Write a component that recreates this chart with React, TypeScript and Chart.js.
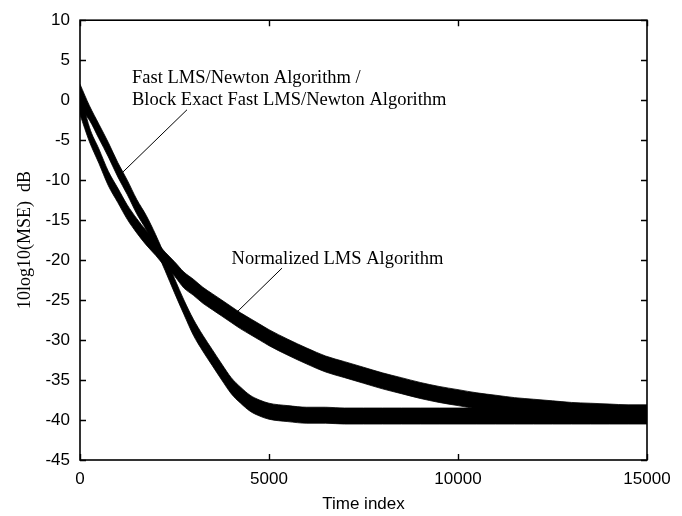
import React, { useEffect, useRef } from 'react';
import { Chart, registerables } from 'chart.js';

Chart.register(...registerables);

// Time index samples (x axis)
const timeIndex = [
  0, 250, 500, 750, 1000, 1250, 1500, 1750, 2000, 2250, 2500, 2750, 3000, 3250, 3500, 3750,
  4000, 4250, 4500, 4750, 5000, 5500, 6000, 6500, 7000, 7500, 8000, 8500, 9000, 9500, 10000,
  10500, 11000, 11500, 12000, 12500, 13000, 13500, 14000, 14500, 15000,
];

// Fast LMS/Newton (and Block Exact Fast LMS/Newton): upper / lower edge of the noisy MSE trace, dB
const fastUpper = [
  2.0, -0.7, -3.0, -5.3, -7.8, -10.0, -12.4, -14.4, -16.8, -19.5, -22.3, -25.0, -27.4, -29.4, -31.2, -33.0,
  -34.7, -35.9, -36.9, -37.5, -37.9, -38.2, -38.4, -38.4, -38.5, -38.5, -38.5, -38.5, -38.5, -38.5, -38.5,
  -38.5, -38.5, -38.5, -38.5, -38.5, -38.5, -38.5, -38.5, -38.5, -38.5,
];
const fastLower = [
  -1.0, -2.5, -4.8, -7.1, -9.6, -11.8, -14.2, -16.2, -18.6, -21.3, -24.1, -26.8, -29.4, -31.4, -33.2, -35.0,
  -36.7, -37.9, -38.9, -39.5, -39.9, -40.2, -40.4, -40.4, -40.5, -40.5, -40.5, -40.5, -40.5, -40.5, -40.5,
  -40.5, -40.5, -40.5, -40.5, -40.5, -40.5, -40.5, -40.5, -40.5, -40.5,
];

// Normalized LMS: upper / lower edge of the noisy MSE trace, dB
const nlmsUpper = [
  1.2, -3.4, -6.1, -8.9, -11.0, -13.1, -14.8, -16.3, -17.6, -19.0, -20.2, -21.5, -22.4, -23.4, -24.2, -25.0,
  -25.8, -26.6, -27.3, -28.0, -28.7, -29.9, -31.0, -32.0, -32.7, -33.4, -34.1, -34.7, -35.3, -35.8, -36.2,
  -36.6, -36.9, -37.2, -37.4, -37.6, -37.8, -37.9, -38.0, -38.1, -38.1,
];
const nlmsLower = [
  -1.8, -5.2, -7.9, -10.7, -12.8, -14.9, -16.6, -18.1, -19.4, -20.8, -22.0, -23.5, -24.4, -25.4, -26.2, -27.0,
  -27.8, -28.6, -29.3, -30.0, -30.7, -31.9, -33.0, -34.0, -34.7, -35.4, -36.1, -36.7, -37.3, -37.8, -38.2,
  -38.6, -38.9, -39.2, -39.4, -39.6, -39.8, -39.9, -40.0, -40.1, -40.1,
];

// Axis ticks
const xTicks = [0, 5000, 10000, 15000];
const yTicks = [-45, -40, -35, -30, -25, -20, -15, -10, -5, 0, 5, 10];

// Annotation texts (data coordinates of first-line baseline start) and leader lines
const fastLabelLines = ['Fast LMS/Newton Algorithm /', 'Block Exact Fast LMS/Newton Algorithm'];
const fastLabelAt = { x: 1376, y: 2.1 };
const fastLeader = [{ x: 2831, y: -1.2 }, { x: 1111, y: -9.1 }];
const nlmsLabelLines = ['Normalized LMS Algorithm'];
const nlmsLabelAt = { x: 4011, y: -20.5 };
const nlmsLeader = [{ x: 5345, y: -21.0 }, { x: 4022, y: -27.1 }];

const SANS = '"Liberation Sans", Arial, sans-serif';
const SERIF = '"Liberation Serif", "Times New Roman", serif';

const overlayPlugin = {
  id: 'overlay',
  afterDraw(chart: any) {
    const { ctx, chartArea: a, scales } = chart;
    const xs = scales.x;
    const ys = scales.y;
    ctx.save();
    ctx.strokeStyle = '#000';
    ctx.lineWidth = 1.6;
    ctx.strokeRect(a.left, a.top, a.right - a.left, a.bottom - a.top);
    const tl = 6;
    ctx.lineWidth = 1.4;
    ctx.beginPath();
    xTicks.forEach((v) => {
      const px = Math.round(xs.getPixelForValue(v)) + 0.5;
      ctx.moveTo(px, a.bottom);
      ctx.lineTo(px, a.bottom - tl);
      ctx.moveTo(px, a.top);
      ctx.lineTo(px, a.top + tl);
    });
    yTicks.forEach((v) => {
      const py = Math.round(ys.getPixelForValue(v)) + 0.5;
      ctx.moveTo(a.left, py);
      ctx.lineTo(a.left + tl, py);
      ctx.moveTo(a.right, py);
      ctx.lineTo(a.right - tl, py);
    });
    ctx.stroke();

    // leader lines
    ctx.lineWidth = 1;
    [fastLeader, nlmsLeader].forEach((seg) => {
      ctx.beginPath();
      ctx.moveTo(xs.getPixelForValue(seg[0].x), ys.getPixelForValue(seg[0].y));
      ctx.lineTo(xs.getPixelForValue(seg[1].x), ys.getPixelForValue(seg[1].y));
      ctx.stroke();
    });

    // labels
    ctx.fillStyle = '#000';
    ctx.font = `18.5px ${SERIF}`;
    ctx.textAlign = 'left';
    ctx.textBaseline = 'alphabetic';
    const lineGap = 22;
    const drawLines = (lines: string[], at: { x: number; y: number }) => {
      const px = xs.getPixelForValue(at.x);
      const py = ys.getPixelForValue(at.y);
      lines.forEach((t, i) => ctx.fillText(t, px, py + i * lineGap));
    };
    drawLines(fastLabelLines, fastLabelAt);
    drawLines(nlmsLabelLines, nlmsLabelAt);
    ctx.restore();
  },
};

export default function App() {
  const ref = useRef<HTMLCanvasElement | null>(null);

  useEffect(() => {
    if (!ref.current) return;
    const band = (data: number[], fill: any) => ({
      data: timeIndex.map((t, i) => ({ x: t, y: data[i] })),
      borderColor: '#000',
      backgroundColor: '#000',
      borderWidth: 0.8,
      pointRadius: 0,
      cubicInterpolationMode: 'monotone' as const,
      fill,
    });
    const chart = new Chart(ref.current, {
      type: 'line',
      data: {
        datasets: [
          { label: 'Fast upper', ...band(fastUpper, '+1') },
          { label: 'Fast lower', ...band(fastLower, false) },
          { label: 'NLMS upper', ...band(nlmsUpper, '+1') },
          { label: 'NLMS lower', ...band(nlmsLower, false) },
        ],
      },
      options: {
        responsive: false,
        animation: false,
        layout: { padding: { left: 0, right: 35, top: 13, bottom: 0 } },
        plugins: { legend: { display: false }, tooltip: { enabled: false }, filler: { propagate: false } },
        scales: {
          x: {
            type: 'linear',
            min: 0,
            max: 15000,
            grid: { display: false, drawTicks: false },
            border: { display: false },
            afterBuildTicks: (s: any) => {
              s.ticks = xTicks.map((v) => ({ value: v }));
            },
            afterFit: (s: any) => {
              s.height = 56;
            },
            ticks: {
              padding: 9,
              color: '#000',
              font: { family: SANS, size: 17 },
              maxRotation: 0,
              callback: (v: any) => String(v),
            },
            title: {
              display: true,
              text: 'Time index',
              color: '#000',
              font: { family: SANS, size: 17 },
              padding: { top: 0, bottom: 1 },
            },
          },
          y: {
            type: 'linear',
            min: -45,
            max: 10,
            grid: { display: false, drawTicks: false },
            border: { display: false },
            afterBuildTicks: (s: any) => {
              s.ticks = yTicks.map((v) => ({ value: v }));
            },
            afterFit: (s: any) => {
              s.width = 80;
            },
            ticks: {
              padding: 10,
              color: '#000',
              font: { family: SANS, size: 17 },
              callback: (v: any) => String(v),
            },
            title: {
              display: true,
              text: '10log10(MSE)  dB',
              color: '#000',
              font: { family: SERIF, size: 18 },
              padding: { top: 14, bottom: 0 },
            },
          },
        },
      },
      plugins: [overlayPlugin],
    });
    return () => chart.destroy();
  }, []);

  return (
    <div style={{ position: 'fixed', left: 0, top: 0, width: 682, height: 516, background: '#fff' }}>
      <canvas ref={ref} width={682} height={516} style={{ width: 682, height: 516, display: 'block' }} />
    </div>
  );
}
